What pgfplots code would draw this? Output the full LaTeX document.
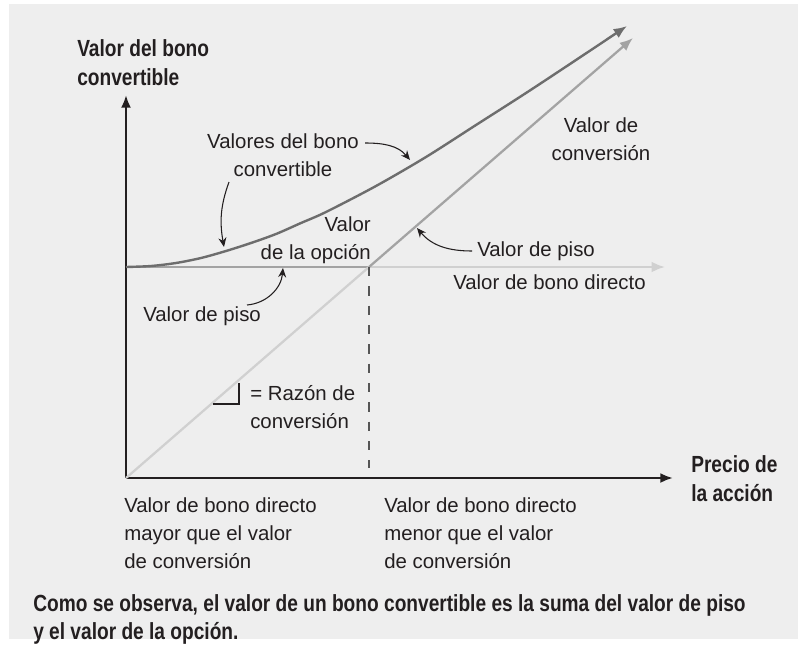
\documentclass[border=0pt]{standalone}
\usepackage{pgfplots}
\pgfplotsset{compat=1.18}
\usetikzlibrary{arrows.meta}
\usepackage{fontspec}
\setmainfont{Liberation Sans}
\newfontfamily\cb[FakeStretch=0.82]{Liberation Sans Bold}
\definecolor{bg}{HTML}{EEEEEE}
\definecolor{ink}{HTML}{231F20}
\definecolor{curvec}{HTML}{6D6D6D}
\definecolor{floorc}{HTML}{A3A3A3}
\definecolor{lightc}{HTML}{D0D0D0}
\definecolor{dashc}{HTML}{555555}
\begin{document}
\begin{tikzpicture}[
  txt/.style={font=\fontsize{15.3}{21}\selectfont,text=ink,inner sep=0pt},
  btxt/.style={font=\cb\fontsize{17.5}{21.75}\selectfont,text=ink,inner sep=0pt},
  ann/.style={ink,line width=0.8pt,-{Stealth[length=7pt,width=6pt]}}]
% page and grey panel, in pixels
\begin{scope}[x=0.75pt,y=-0.75pt]
\fill[white] (0,0) rectangle (798,649);
\fill[bg] (9,4) rectangle (798,639);
\end{scope}
\begin{axis}[at={(94.5pt,-358.5pt)},anchor=south west,scale only axis,
  width=410.25pt,height=287.25pt,
  xmin=0,xmax=547,ymin=0,ymax=383,
  axis lines=left,ticks=none,clip=false,
  axis line style={ink,line width=1.8pt,-{Latex[length=9.5pt,width=7.5pt]}},
  every outer x axis line/.append style={-{Latex[length=9.5pt,width=7.5pt]}},
  every outer y axis line/.append style={-{Latex[length=9.5pt,width=7.5pt]}},
]
% straight bond value (floor) and its continuation
\addplot[floorc,line width=1.7pt] coordinates {(0,211) (243,211)};
\addplot[lightc,line width=1.7pt,-{Latex[length=10pt,width=8pt]}] coordinates {(243,211) (539,211)};
% conversion value
\addplot[lightc,line width=1.7pt] coordinates {(0,0) (243,211)};
\addplot[floorc,line width=1.7pt,-{Latex[length=10pt,width=8pt]}] coordinates {(243,211) (507,440)};
% convertible bond value
\addplot[curvec,line width=1.8pt,smooth,-{Latex[length=10pt,width=8pt]}] coordinates {
 (0,211) (25,212) (50,215) (75,220) (100,227) (125,235) (150,244) (175,255)
 (200,266) (250,292) (300,321) (350,353) (400,385) (450,418) (501,452)};
% dashed separator
\addplot[dashc,line width=0.9pt,dash pattern=on 7pt off 7.5pt] coordinates {(243,211) (243,10)};

% slope marker
\draw[ink,line width=0.8pt] (87,74) -- (113,74) -- (113,95);

% annotation arrows
\draw[ann] (239,335) to[out=0,in=130] (284,318);
\draw[ann] (103,296) to[out=250,in=100] (98,231);
\draw[ann] (121,173) to[out=5,in=-95] (157,210);
\draw[ann] (346,227) to[out=180,in=-50] (291,250);

% texts
\node[btxt,anchor=west,align=left] at (-49,415.5) {Valor del bono\\convertible};
\node[btxt,anchor=west,align=left] at (565,-0.5) {Precio de\\la acción};
\node[txt,align=center] at (157,322.5) {Valores del bono\\convertible};
\node[txt,anchor=east,align=right] at (245,238) {Valor\\de la opción};
\node[txt,anchor=west] at (17,162) {Valor de piso};
\node[txt,anchor=west] at (351,227) {Valor de piso};
\node[txt,anchor=west] at (327,196) {Valor de bono directo};
\node[txt,align=center] at (475,338.5) {Valor de\\conversión};
\node[txt,anchor=west,align=left] at (124,70.5) {= Razón de\\conversión};
\node[txt,anchor=west,align=left] at (-2,-55) {Valor de bono directo\\mayor que el valor\\de conversión};
\node[txt,anchor=west,align=left] at (258,-55) {Valor de bono directo\\menor que el valor\\de conversión};
\node[btxt,anchor=west,align=left,font=\cb\fontsize{17.5}{21}\selectfont] at (-93,-141)
 {Como se observa, el valor de un bono convertible es la suma del valor de piso\\y el valor de la opción.};
\end{axis}
\end{tikzpicture}
\end{document}
